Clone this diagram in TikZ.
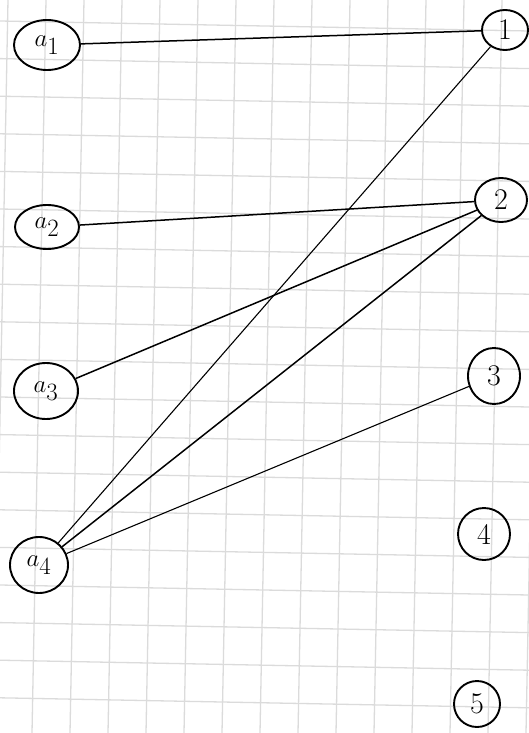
\documentclass[tikz,border=0pt]{standalone}
\usetikzlibrary{shapes.geometric}
\begin{document}
\begin{tikzpicture}[x=1pt,y=-1pt,
  vtx/.style={draw, ellipse, line width=1.9pt, inner sep=0pt, font=\fontsize{34}{36}\selectfont},
  num/.style={vtx, font=\fontsize{30}{32}\selectfont},
  edge/.style={line width=1.5pt},
  thinedge/.style={line width=1.1pt},
  gridline/.style={gray!28, line width=1.3pt}]
\useasboundingbox (0,0) rectangle (529,733);
\begin{scope}
\clip (0,0) rectangle (529,733);
\foreach \k in {0,...,14} \draw[gridline] (8+38*\k,0) -- (8+38*\k-14,733);
\foreach \k in {0,...,19} \draw[gridline] (0,21+37.6*\k) -- (529,21+37.6*\k+10);
\end{scope}
\node[vtx, minimum width=66pt, minimum height=50pt] (a1) at (47,45) {$a_1$};
\node[vtx, minimum width=64pt, minimum height=44pt] (a2) at (47,227) {$a_2$};
\node[vtx, minimum width=64pt, minimum height=56pt] (a3) at (46,391) {$a_3$};
\node[vtx, minimum width=58pt, minimum height=56pt] (a4) at (39,565) {$a_4$};
\node[num, minimum width=46pt, minimum height=40pt] (n1) at (505,30) {1};
\node[num, minimum width=52pt, minimum height=44pt] (n2) at (501,200) {2};
\node[num, minimum width=52pt, minimum height=56pt] (n3) at (494,376) {3};
\node[num, minimum width=52pt, minimum height=52pt] (n4) at (484,534) {4};
\node[num, minimum width=46pt, minimum height=46pt] (n5) at (477,704) {5};
\draw[edge] (a1) -- (n1);
\draw[edge] (a2) -- (n2);
\draw[edge] (a3) -- (n2);
\draw[thinedge] (a4) -- (n1);
\draw[edge] (a4) -- (n2);
\draw[thinedge] (a4) -- (n3);
\end{tikzpicture}
\end{document}
